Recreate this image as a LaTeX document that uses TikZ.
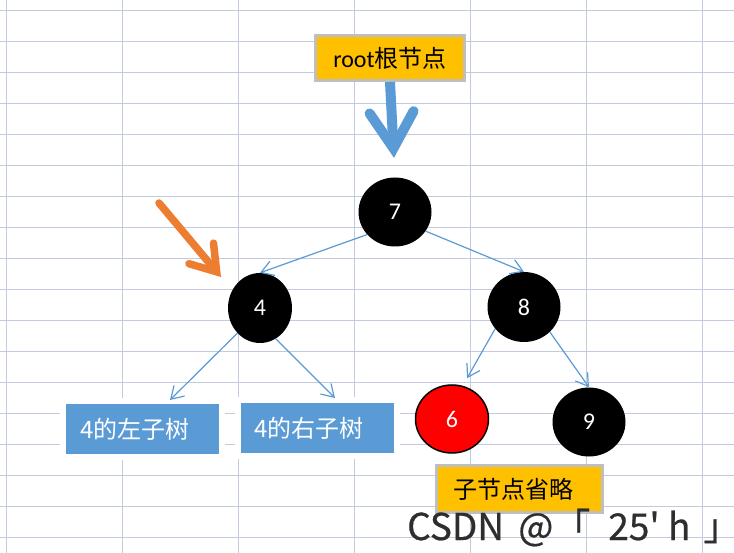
\documentclass[tikz,border=0pt]{standalone}
\usepackage{fontspec}
\setmainfont{Carlito}
\newfontfamily\cjk{Noto Sans CJK SC}
\newfontfamily\markfont[Ligatures=TeXOff, FakeBold=0.6]{Noto Sans CJK SC}
\usetikzlibrary{arrows.meta, positioning, shapes.geometric}
\definecolor{xlBlue}{HTML}{5B9BD5}
\definecolor{xlGold}{HTML}{FFC000}
\definecolor{xlOrange}{HTML}{ED7D31}
\definecolor{xlGrid}{HTML}{C2CBDD}
\definecolor{xlBorder}{HTML}{BFBFBF}
\definecolor{markGray}{HTML}{2E2E2E}
\tikzset{
  gridLine/.style={xlGrid, line width=0.9pt},
  dotBlack/.style={ellipse, fill=black, text=white, inner sep=0pt,
                   minimum width=73pt, minimum height=69pt,
                   font=\fontsize{24}{28}\selectfont},
  dotRed/.style={dotBlack, fill=red, draw=black, line width=1.5pt},
  boxGold/.style={rectangle, fill=xlGold, draw=xlBorder, line width=3pt,
                  minimum height=45pt, inner sep=0pt,
                  font=\fontsize{24}{28}\selectfont},
  boxBlue/.style={rectangle, fill=xlBlue, draw=white, line width=6pt, text=white,
                  outer sep=0pt, minimum height=56pt, text width=125pt,
                  inner xsep=17pt, align=left, font=\fontsize{24}{28}\selectfont\cjk},
  arrowB/.style={-{Straight Barb[length=12pt,width=15pt]}, xlBlue, line width=1.2pt},
  arrowBig/.style={-{Straight Barb[length=36pt,width=44pt,line cap=round,line join=miter]},
                   xlBlue, line width=10pt},
  arrowO/.style={-{Straight Barb[length=24pt,width=32pt,line cap=round,line join=miter]},
                 xlOrange, line width=7.5pt, line cap=round},
}

\begin{document}
\begin{tikzpicture}[x=1pt, y=-1pt]
  \useasboundingbox (0,0) rectangle (734,553);
  \fill[white] (0,0) rectangle (734,553);
  % sheet grid
  \foreach \gx in {6,122,...,702}
    \draw[gridLine] (\gx,0) -- (\gx,553);
  \foreach \gy in {10,41,...,537}
    \draw[gridLine] (0,\gy) -- (734,\gy);

  % tree
  \node[boxGold, minimum width=149pt] (root) at (390,58) {root{\cjk 根节点}};
  \node[dotBlack] (n7) at (395,212) {7};
  \node[dotBlack, minimum width=64pt, minimum height=70pt] (n4) at (260,308) {4};
  \node[dotBlack, minimum height=70pt] (n8) at (524,307) {8};
  \node[dotRed, minimum height=68pt] (n6) at (452,419) {6};
  \node[dotBlack] (n9) at (589,422) {9};
  \node[boxBlue] (lsub) at (142.5,429) {4的左子树};
  \node[boxBlue] (rsub) at (317,428) {4的右子树};
  \node[boxGold, minimum height=47pt, text width=132pt, inner xsep=17pt,
        align=left, font=\fontsize{24}{28}\selectfont\cjk] (omit) at (519.5,489) {子节点省略};

  \draw[arrowBig, shorten >=19.5pt] (root.south) -- (n7.north);
  \draw[arrowB] (n7.219) -- (n4.north);
  \draw[arrowB] (n7.328) -- (n8.north);
  \draw[arrowB] (n4.228) -- ([xshift=27.5pt, yshift=1pt]lsub.north);
  \draw[arrowB] (n4.297) -- ([xshift=18pt, yshift=2pt]rsub.north);
  \draw[arrowB] (n8.217) -- ([xshift=15pt, yshift=6pt]n6.north);
  \draw[arrowB] (n8.316) -- (n9.north);

  % pointer to node 4
  \coordinate (oTail) at (159,203);
  \coordinate (oHead) at (221,277);
  \draw[arrowO] (oTail) -- (oHead);

  \node[anchor=base west, inner sep=0pt, text=markGray,
        font=\markfont\fontsize{37}{40}\selectfont] (mark) at (407,540)
        {CSDN\kern6pt\ @「\kern18pt 25' h\kern13pt 」};
\end{tikzpicture}
\end{document}
